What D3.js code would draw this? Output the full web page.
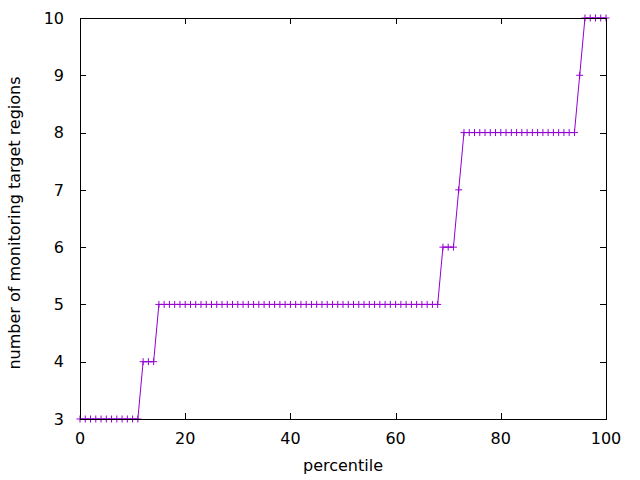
<!DOCTYPE html>
<html>
<head>
<meta charset="utf-8">
<script src="https://cdn.jsdelivr.net/npm/d3@7"></script>
<style>
  body { margin: 0; background: #fff; }
  text { font-family: "DejaVu Sans", sans-serif; font-size: 16px; fill: #000; }
</style>
</head>
<body>
<div id="chart"></div>
<script>
// percentile values (x) and number of regions (y)
var percentiles = [0,1,2,3,4,5,6,7,8,9,10,11,12,13,14,15,16,17,18,19,20,
  21,22,23,24,25,26,27,28,29,30,31,32,33,34,35,36,37,38,39,40,
  41,42,43,44,45,46,47,48,49,50,51,52,53,54,55,56,57,58,59,60,
  61,62,63,64,65,66,67,68,69,70,71,72,73,74,75,76,77,78,79,80,
  81,82,83,84,85,86,87,88,89,90,91,92,93,94,95,96,97,98,99,100];
var regions = [3,3,3,3,3,3,3,3,3,3,3,3,4,4,4,5,5,5,5,5,5,
  5,5,5,5,5,5,5,5,5,5,5,5,5,5,5,5,5,5,5,5,
  5,5,5,5,5,5,5,5,5,5,5,5,5,5,5,5,5,5,5,5,
  5,5,5,5,5,5,5,5,6,6,6,7,8,8,8,8,8,8,8,8,
  8,8,8,8,8,8,8,8,8,8,8,8,8,8,9,10,10,10,10,10];
var xTicks = [0, 20, 40, 60, 80, 100];
var yTicks = [3, 4, 5, 6, 7, 8, 9, 10];

var data = percentiles.map(function(p, i) { return {p: p, v: regions[i]}; });

var W = 640, H = 480;
var margin = {top: 18, right: 34, bottom: 61, left: 80};
var width = W - margin.left - margin.right;
var height = H - margin.top - margin.bottom;
var tick = 6;

var svg = d3.select("#chart").append("svg")
    .attr("width", W)
    .attr("height", H);

var x = d3.scaleLinear().domain([0, 100]).range([0, width]);
var y = d3.scaleLinear().domain([3, 10]).range([height, 0]);

var g = svg.append("g")
    .attr("transform", "translate(" + margin.left + "," + margin.top + ")");

// tics (inward, mirrored)
g.selectAll(".xt").data(xTicks).enter().append("path")
    .attr("d", function(d) {
      var px = Math.round(x(d)) + 0.5;
      return "M" + px + "," + height + "v" + (-tick) + "M" + px + ",0v" + tick;
    })
    .attr("stroke", "#000").attr("stroke-width", 1);

g.selectAll(".yt").data(yTicks).enter().append("path")
    .attr("d", function(d) {
      var py = Math.round(y(d)) + 0.5;
      return "M0," + py + "h" + tick + "M" + width + "," + py + "h" + (-tick);
    })
    .attr("stroke", "#000").attr("stroke-width", 1);

// tick labels
g.selectAll(".xl").data(xTicks).enter().append("text")
    .attr("x", function(d) { return x(d); })
    .attr("y", height + 25)
    .attr("text-anchor", "middle")
    .text(function(d) { return d; });

g.selectAll(".yl").data(yTicks).enter().append("text")
    .attr("x", -16)
    .attr("y", function(d) { return y(d); })
    .attr("dy", "0.36em")
    .attr("text-anchor", "end")
    .text(function(d) { return d; });

// the data line with + points
var line = d3.line()
    .x(function(d) { return x(d.p); })
    .y(function(d) { return y(d.v); });

g.append("path")
    .datum(data)
    .attr("fill", "none")
    .attr("stroke", "#9400d3")
    .attr("stroke-width", 1)
    .attr("d", line);

g.selectAll(".pt").data(data).enter().append("path")
    .attr("d", function(d) {
      var px = x(d.p), py = y(d.v);
      return "M" + (px - 3.5) + "," + py + "h7M" + px + "," + (py - 3.5) + "v7";
    })
    .attr("stroke", "#9400d3")
    .attr("stroke-width", 1)
    .attr("fill", "none");

// border
g.append("rect")
    .attr("x", 0.5).attr("y", 0.5)
    .attr("width", width).attr("height", height)
    .attr("fill", "none")
    .attr("stroke", "#000")
    .attr("stroke-width", 1);

// axis titles
svg.append("text")
    .attr("x", margin.left + width / 2)
    .attr("y", 471)
    .attr("text-anchor", "middle")
    .text("percentile");

svg.append("text")
    .attr("transform", "translate(20,223) rotate(-90)")
    .attr("text-anchor", "middle")
    .text("number of monitoring target regions");
</script>
</body>
</html>
